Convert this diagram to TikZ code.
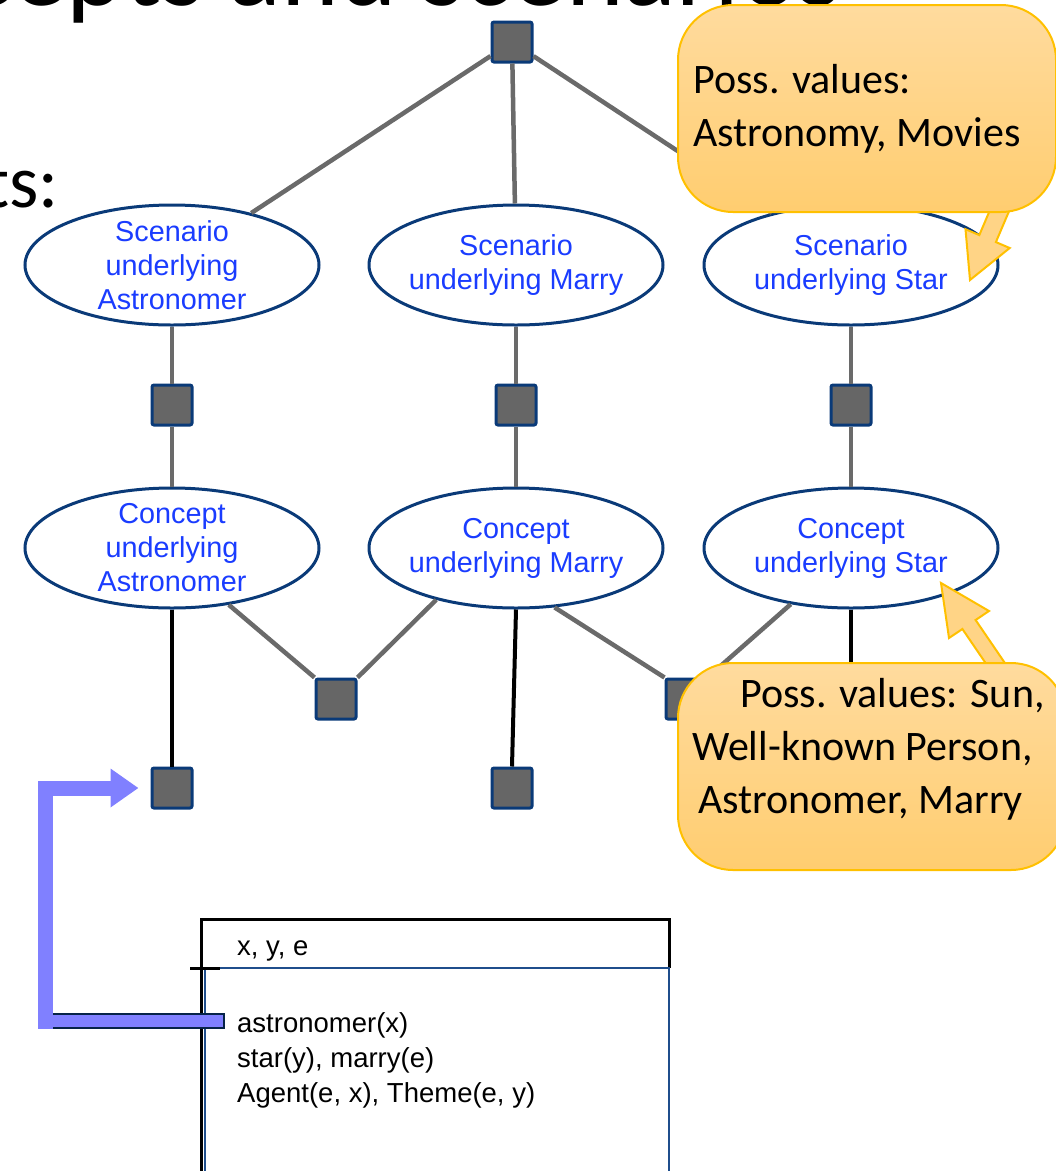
\documentclass[tikz,border=0pt]{standalone}
\usepackage{fontspec}
\setmainfont{Liberation Sans}
\newfontfamily\calibfont{Carlito}
\usetikzlibrary{arrows.meta,calc,shapes.geometric}

\definecolor{sqfill}{HTML}{666666}
\definecolor{navy}{HTML}{0A3A78}
\definecolor{edgegray}{HTML}{6A6A6A}
\definecolor{labelblue}{HTML}{1A3CFF}
\definecolor{noteborder}{HTML}{FFC000}
\definecolor{notetop}{HTML}{FFDB9E}
\definecolor{notebottom}{HTML}{FFCD70}
\definecolor{notemid}{HTML}{FFD486}
\definecolor{lavender}{HTML}{8080FF}
\definecolor{drsblue}{HTML}{1F4E8C}

\tikzset{
  factor/.style={rectangle, minimum width=40pt, minimum height=40pt, inner sep=0pt,
    fill=sqfill, draw=navy, line width=3pt, rounded corners=2pt},
  % negative inner sep keeps every ellipse at its minimum size
  concept/.style={ellipse, draw=navy, line width=3pt, minimum width=294pt,
    minimum height=120pt, inner sep=-10pt, text=labelblue, align=center, fill=white,
    font=\fontsize{28.8}{34}\selectfont},
  grayedge/.style={draw=edgegray, line width=4.5pt},
  blackedge/.style={draw=black, line width=4pt},
  note/.style={top color=notetop, bottom color=notebottom, draw=noteborder,
    line width=2pt, rounded corners=55pt},
  notepointer/.style={fill=notemid, draw=noteborder, line width=2pt, line join=miter},
  notetext/.style={font=\calibfont\fontsize{42}{53}\selectfont, inner sep=0pt, align=left},
  drstext/.style={font=\fontsize{27.5}{35}\selectfont, inner sep=0pt, align=left},
  linkarrow/.style={draw=lavender, line width=15pt, line join=miter,
    -{Triangle[width=37pt,length=28pt]}},
}

\begin{document}
\begin{tikzpicture}[x=1pt,y=-1pt]
\useasboundingbox (0,0) rectangle (1056,1171);

% heading fragments
\node[anchor=base west, inner sep=0pt, font=\calibfont\fontsize{110}{110}\selectfont]
  (title) at (-209,5) {Concepts and scenarios};
\node[anchor=base east, inner sep=0pt, font=\calibfont\fontsize{75}{75}\selectfont]
  (subhead) at (59,207) {ts:};

% factor squares
\node[factor] (top) at (512,42) {};
\node[factor] (m1) at (172,405) {};
\node[factor] (m2) at (516,405) {};
\node[factor] (m3) at (851,405) {};
\node[factor] (b12) at (336,699) {};
\node[factor] (b23) at (686,699) {};
\node[factor] (leaf1) at (172,788) {};
\node[factor] (leaf2) at (512,788) {};

% scenario and concept variables
\node[concept] (sc1) at (172,265) {Scenario\\underlying\\Astronomer};
\node[concept] (sc2) at (516,265) {Scenario\\underlying Marry};
\node[concept] (sc3) at (851,265) {Scenario\\underlying Star};
\node[concept] (co1) at (172,548) {Concept\\underlying\\Astronomer};
\node[concept] (co2) at (516,548) {Concept\\underlying Marry};
\node[concept] (co3) at (851,548) {Concept\\underlying Star};
\coordinate (co3end) at (851,730);

% edges
\draw[grayedge] (top) -- (sc1);
\draw[grayedge] (top) -- (sc2);
\draw[grayedge] (top) -- (sc3);
\foreach \i in {1,2,3} {
  \draw[grayedge] (sc\i) -- (m\i);
  \draw[grayedge] (m\i) -- (co\i);
}
\draw[grayedge] (co1.-45) -- (b12.north west);
\draw[grayedge] (b12.north east) -- (co2.-147);
\draw[grayedge] (co2.-57) -- (b23.north west);
\draw[grayedge] (b23.north east) -- (co3.-137);
\draw[blackedge] (co1.south) -- (leaf1.north);
\draw[blackedge] (co2.south) -- (leaf2.north);
\draw[blackedge] (co3.south) -- (co3end);

% DRS box
\draw[black, line width=3pt] (201,1180) -- (201,919) -- (669,919) -- (669,968);
\draw[drsblue, line width=2.5pt] (203,968) -- (669,968) -- (669,1180);
\draw[drsblue, line width=1.2pt] (205,970) -- (205,1180);
\draw[black, line width=3pt] (190,968) -- (220,968);
\node[drstext, anchor=base west] (univ) at (237,955) {x, y, e};
% multi-line nodes are anchored at the baseline of their last line
\node[drstext, anchor=base west] (conds) at (237,1102)
  {astronomer(x)\\star(y), marry(e)\\Agent(e, x), Theme(e, y)};

% link from the first DRS condition to the factor
\coordinate (lstart) at ($(conds.base west)+(-13,-81)$);
\draw[linkarrow, shorten >=12pt] (lstart) -- (45,1021) |- (leaf1.west);
\draw[navy!60!black, line width=1.2pt] (53,1014) -- ($(lstart)+(0,-7)$)
  -- ($(lstart)+(0,7)$) -- (53,1028);

% note pointers
\coordinate (tipA) at (970,280);
\draw[notepointer] (995.7,196.5) -- (979.3,235.1) -- (965.5,229.2) -- (tipA)
  -- (1009.7,248) -- (995.9,242.1) -- (1012.3,203.5) -- cycle;
\coordinate (tipB) at (941,583);
\draw[notepointer] (993.4,674.5) -- (962.4,629) -- (949,638) -- (tipB)
  -- (989,611) -- (975.6,620) -- (1006.6,665.5) -- cycle;

% notes
\draw[note] (678,5) rectangle (1056,212);
\node[notetext, anchor=base west] (noteA) at (693,146) {Poss. values:\\Astronomy, Movies};
\draw[note] (678,663) rectangle (1066,870);
\node[notetext, anchor=base west] (noteB) at (692,813)
  {\hspace*{48pt}Poss. values: Sun,\\Well-known Person,\\\hspace*{6pt}Astronomer, Marry};
\end{tikzpicture}
\end{document}
